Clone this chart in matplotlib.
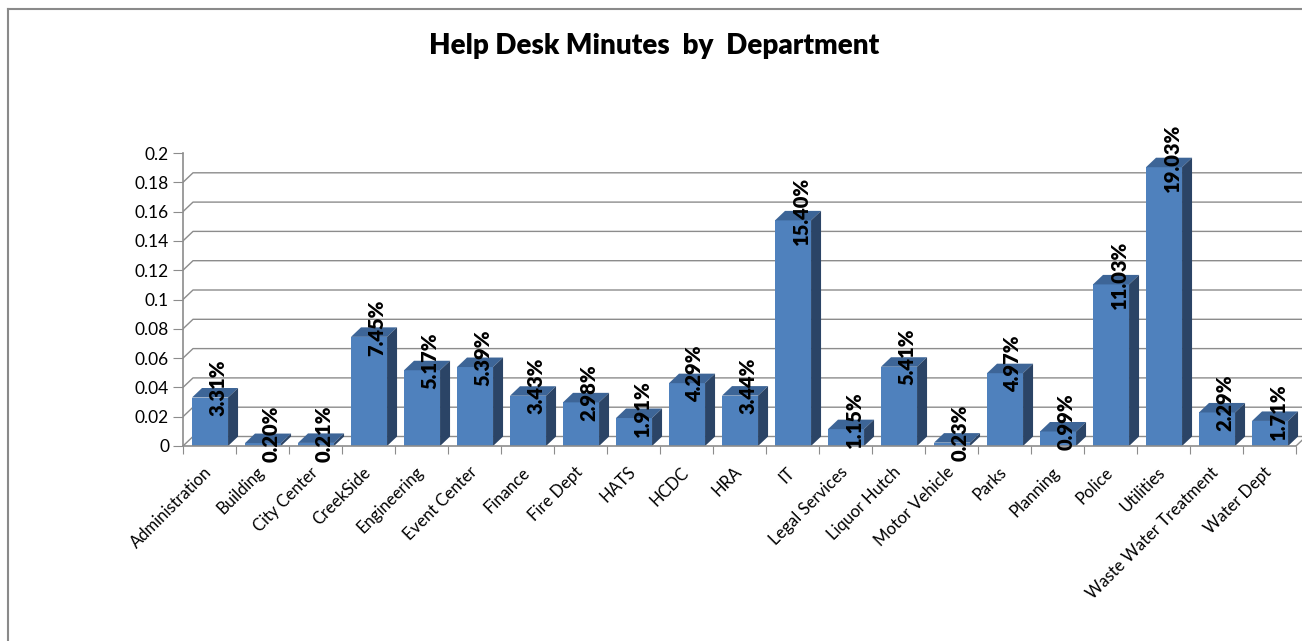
import numpy as np
import matplotlib.pyplot as plt
import matplotlib.transforms as mtransforms
from matplotlib.patches import Polygon
from matplotlib.lines import Line2D

# data
departments = ["Administration", "Building", "City Center", "CreekSide", "Engineering",
               "Event Center", "Finance", "Fire Dept", "HATS", "HCDC", "HRA", "IT",
               "Legal Services", "Liquor Hutch", "Motor Vehicle", "Parks", "Planning",
               "Police", "Utilities", "Waste Water Treatment", "Water Dept"]
share_pct = [3.31, 0.20, 0.21, 7.45, 5.17, 5.39, 3.43, 2.98, 1.91, 4.29, 3.44, 15.40,
             1.15, 5.41, 0.23, 4.97, 0.99, 11.03, 19.03, 2.29, 1.71]
y_ticks = [0, 0.02, 0.04, 0.06, 0.08, 0.1, 0.12, 0.14, 0.16, 0.18, 0.2]
y_tick_labels = ["0", "0.02", "0.04", "0.06", "0.08", "0.1", "0.12", "0.14", "0.16", "0.18", "0.2"]

plt.rcParams['font.family'] = ['Lato', 'DejaVu Sans']

W, H = 1302, 641
fig = plt.figure(figsize=(W / 100, H / 100), dpi=100)

# plot area in pixels (front x axis at y=446, value 0.2 at y=153)
left_px, right_px, bottom_px, top_px = 183, 1302, 446, 140
ax = fig.add_axes([left_px / W, (H - bottom_px) / H,
                   (right_px - left_px) / W, (bottom_px - top_px) / H])

n = len(departments)
cat_px = 53.0
px_per_val = 293 / 0.2
ax.set_xlim(0, (right_px - left_px) / cat_px)
ax.set_ylim(0, (bottom_px - top_px) / px_per_val)

# depth of the fake 3d
dx = 10 / cat_px
dy = 9.5 / px_per_val

grid_col = "#8c8c8c"
front_col = "#4f81bd"
top_col = "#3d6597"
side_col = "#2b4466"

# back wall + side wall gridlines
xmax = ax.get_xlim()[1]
for v in y_ticks[:-1]:
    ax.plot([0, dx, xmax], [v, v + dy, v + dy], color=grid_col, lw=1, zorder=1,
            solid_capstyle='butt')
# floor right edge
ax.plot([n, n + dx], [0, dy], color=grid_col, lw=1, zorder=1)

vals = np.array(share_pct) / 100
xc = np.arange(n) + 0.51
w = 0.68
ax.bar(xc, vals, width=w, color=front_col, zorder=3, linewidth=0)
for x, v in zip(xc, vals):
    r = x + w / 2
    l = x - w / 2
    ax.add_patch(Polygon([(l, v), (r, v), (r + dx, v + dy), (l + dx, v + dy)],
                         closed=True, facecolor=top_col, edgecolor='none', zorder=3))
    ax.add_patch(Polygon([(r, 0), (r + dx, dy), (r + dx, v + dy), (r, v)],
                         closed=True, facecolor=side_col, edgecolor='none', zorder=3))
    ax.text(x + 0.15, v + dy, "%.2f%%" % (v * 100), rotation=90, ha='center', va='center',
            fontsize=14.5, fontweight='heavy', color='black', zorder=5, clip_on=False)

# axes styling
for s in ['top', 'right']:
    ax.spines[s].set_visible(False)
ax.spines['left'].set_bounds(0, 0.2)
ax.spines['bottom'].set_bounds(0, n)
for s in ['left', 'bottom']:
    ax.spines[s].set_color(grid_col)
    ax.spines[s].set_linewidth(1.2)
    ax.spines[s].set_zorder(4)

ax.set_yticks(y_ticks)
ax.set_yticklabels(y_tick_labels)
ax.tick_params(axis='y', direction='out', length=7, color=grid_col, labelsize=12.5, pad=3)

ax.set_xticks(np.arange(n + 1))
ax.set_xticklabels([])
ax.set_xticks(np.arange(n) + 0.5, minor=True)
ax.set_xticklabels(departments, minor=True, rotation=45, ha='right',
                   rotation_mode='anchor', fontsize=12)
ax.tick_params(axis='x', which='major', direction='out', length=6, color=grid_col)
ax.tick_params(axis='x', which='minor', length=0, pad=13)
shift = mtransforms.ScaledTranslation(-6 / 100, 0, fig.dpi_scale_trans)
for lab in ax.get_xticklabels(minor=True):
    lab.set_transform(lab.get_transform() + shift)

ax.set_facecolor('none')

fig.text(654 / W, 1 - 46 / H, "Help Desk Minutes  by  Department", ha='center', va='center',
         fontsize=20, fontweight='heavy')

# chart frame
fig.add_artist(Line2D([7.5 / W, 7.5 / W], [0, 1 - 8.5 / H], transform=fig.transFigure,
                      color='#8a8a8a', lw=1.5))
fig.add_artist(Line2D([7.5 / W, 1], [1 - 8.5 / H, 1 - 8.5 / H], transform=fig.transFigure,
                      color='#8a8a8a', lw=1.5))

fig.savefig("out.png", dpi=100)
